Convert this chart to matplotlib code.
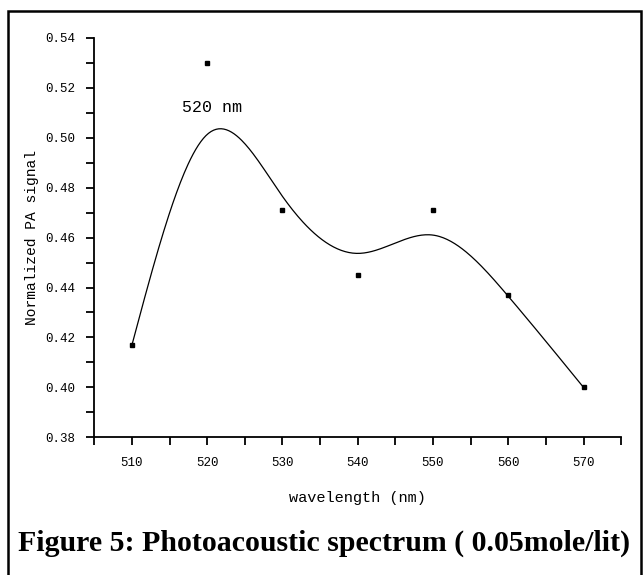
import numpy as np
import matplotlib
matplotlib.use("Agg")
import matplotlib.pyplot as plt
from matplotlib.patches import Rectangle

# measured points
wavelength = [510, 520, 530, 540, 550, 560, 570]
pa_signal = [0.417, 0.530, 0.471, 0.445, 0.471, 0.437, 0.400]
peak_label = "520 nm"


def bspline(px, py, n=60):
    # uniform cubic B-spline, data used as control points,
    # phantom end points so the curve starts/ends on the data
    px = np.asarray(px, float)
    py = np.asarray(py, float)
    px = np.concatenate([[2 * px[0] - px[1]], px, [2 * px[-1] - px[-2]]])
    py = np.concatenate([[2 * py[0] - py[1]], py, [2 * py[-1] - py[-2]]])
    t = np.linspace(0, 1, n)
    b0 = (1 - t) ** 3 / 6
    b1 = (3 * t**3 - 6 * t**2 + 4) / 6
    b2 = (-3 * t**3 + 3 * t**2 + 3 * t + 1) / 6
    b3 = t**3 / 6
    xs, ys = [], []
    for i in range(len(px) - 3):
        xs.append(b0 * px[i] + b1 * px[i + 1] + b2 * px[i + 2] + b3 * px[i + 3])
        ys.append(b0 * py[i] + b1 * py[i + 1] + b2 * py[i + 2] + b3 * py[i + 3])
    return np.concatenate(xs), np.concatenate(ys)


mono = "Liberation Mono"
fig = plt.figure(figsize=(6.43, 5.75), dpi=100)
ax = fig.add_axes([0.1467, 0.2395, 0.8193, 0.6946])

cx, cy = bspline(wavelength, pa_signal)
ax.plot(cx, cy, color="black", lw=0.9)
ax.plot(wavelength, pa_signal, ls="none", marker="s", ms=2.2, color="black")
ax.text(520.6, 0.512, peak_label, ha="center", va="center", fontsize=12, family=mono)

ax.set_xlim(505, 575)
ax.set_ylim(0.38, 0.54)
ax.set_xticks(np.arange(510, 571, 10))
ax.set_xticks(np.arange(505, 576, 10), minor=True)
ax.set_yticks(np.arange(0.38, 0.541, 0.02))
ax.set_yticks(np.arange(0.39, 0.54, 0.02), minor=True)
ax.set_yticklabels([f"{v:.2f}" for v in np.arange(0.38, 0.541, 0.02)])
for s in ["top", "right"]:
    ax.spines[s].set_visible(False)
for s in ["left", "bottom"]:
    ax.spines[s].set_linewidth(1.3)
ax.tick_params(which="both", direction="out", length=6, width=1.3, labelsize=9, pad=8)
for lab in ax.get_xticklabels() + ax.get_yticklabels():
    lab.set_family(mono)
ax.set_xlabel("wavelength (nm)", family=mono, fontsize=11, labelpad=16)
ax.set_ylabel("Normalized PA signal", family=mono, fontsize=10.5, labelpad=4)

fig.patches.append(Rectangle((8 / 643, -0.05), 633 / 643, 1 - 11 / 575 + 0.05,
                             transform=fig.transFigure, fill=False, lw=1.8, ec="black"))
fig.text(18 / 643, 1 - 543 / 575, "Figure 5: Photoacoustic spectrum ( 0.05mole/lit)",
         family="Liberation Serif", weight="bold", fontsize=21.5, va="center", ha="left")

fig.savefig("out.png", dpi=100)
